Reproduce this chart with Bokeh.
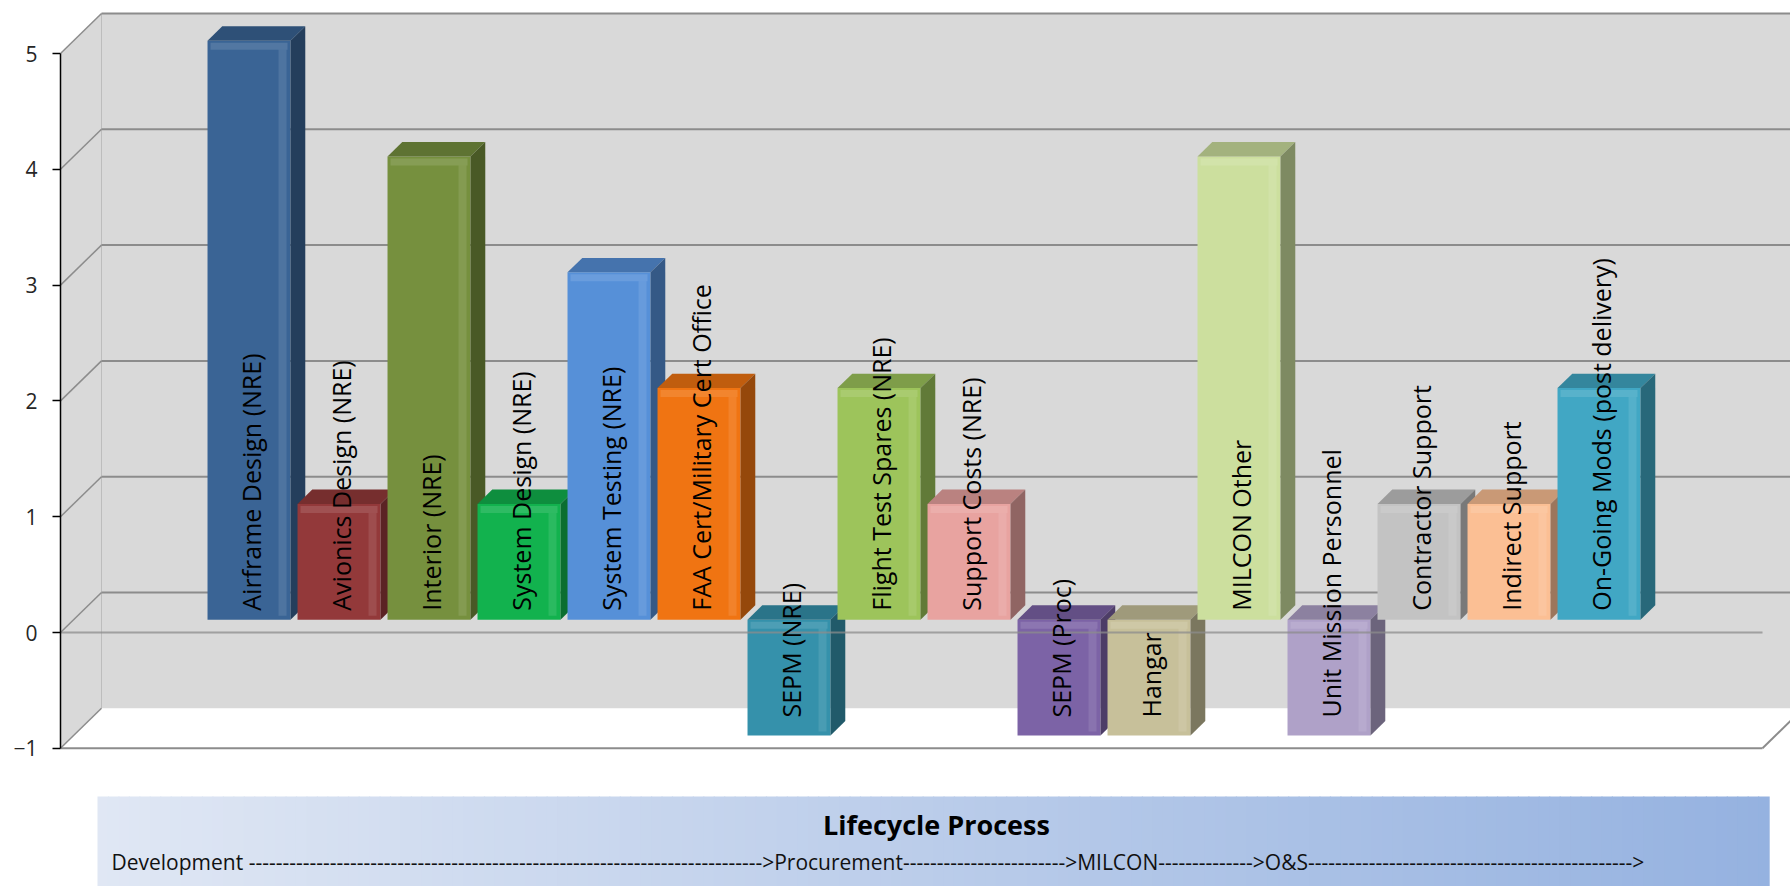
import numpy as np
from bokeh.plotting import figure
from bokeh.models import Range1d, LinearAxis, FixedTicker
from bokeh.core.properties import value
from bokeh.embed import file_html
from bokeh.resources import INLINE

# ---------------- data ----------------
categories = [
    "Airframe Design (NRE)", "Avionics Design (NRE)", "Interior (NRE)",
    "System Design (NRE)", "System Testing (NRE)", "FAA Cert/Military Cert Office",
    "SEPM (NRE)", "Flight Test Spares (NRE)", "Support Costs (NRE)",
    "SEPM (Proc)", "Hangar", "MILCON Other", "Unit Mission Personnel",
    "Contractor Support", "Indirect Support", "On-Going Mods (post delivery)",
]
values = [5, 1, 4, 1, 3, 2, -1, 2, 1, -1, -1, 4, -1, 1, 1, 2]
colors = [
    "#3A6495", "#93393A", "#76903E", "#12B24E", "#5690D8", "#F07412",
    "#3591AB", "#9DC45B", "#E8A3A0", "#7C63A6", "#C7C09A", "#CCDF9E",
    "#AFA1C8", "#C3C3C3", "#FBBF94", "#41A7C4",
]
y_ticks = [-1, 0, 1, 2, 3, 4, 5]
axis_title = "Lifecycle Process"
phases = ["Development", ">Procurement", ">MILCON", ">O&S", ">"]
phase_dashes = [76, 24, 14, 48]

# ---------------- geometry (layout) ----------------
W, H = 1790, 886
LEFT = 60            # y axis position (front plane)
UNIT = 115.8         # px per value unit
ZERO_PY = 632        # front-plane zero
SLOT = 90.0          # px per category
SLOT0 = 235.4        # front-plane center of first slot
DPX, DPY = 41.0, 40.0  # depth offset of back wall in px
DX, DY = DPX / SLOT, DPY / UNIT
F0, F1 = 0.32, 0.68  # bar front / back depth fractions
HW = 41.5 / SLOT     # half front width
VMIN, VMAX = min(y_ticks), max(y_ticks)


def X(px):
    return (px - SLOT0) / SLOT


def Y(py):
    return (ZERO_PY - py) / UNIT


def rgb(c):
    c = c.lstrip("#")
    return np.array([int(c[k:k + 2], 16) for k in (0, 2, 4)], dtype=float)


def hexc(a):
    a = np.clip(np.round(a), 0, 255).astype(int)
    return "#%02x%02x%02x" % tuple(a)


def shade(c, f):
    return hexc(rgb(c) * f)


def tint(c, f):
    a = rgb(c)
    return hexc(a + (255 - a) * f)


p = figure(width=W, height=H, output_backend="svg", toolbar_location=None,
           x_range=Range1d(X(LEFT), X(W)), y_range=Range1d(Y(H), Y(0)),
           x_axis_location=None, y_axis_location=None,
           min_border_left=LEFT, min_border_right=0, min_border_top=0,
           min_border_bottom=0)
p.outline_line_color = None
p.grid.visible = False
p.background_fill_color = "white"
p.border_fill_color = "white"

x_front = X(LEFT)
x_back = x_front + DX
x_plane_right = X(1762)
x_far = X(W) + 1

WALL = "#D9D9D9"
GRID = "#8C8C8C"

# side wall
p.patch([x_front, x_back, x_back, x_front],
        [VMAX, VMAX + DY, VMIN + DY, VMIN], fill_color=WALL, line_color=None)
# back wall
p.quad(left=x_back, right=x_far, bottom=VMIN + DY, top=VMAX + DY,
       fill_color=WALL, line_color=None)
p.segment(x0=x_back, y0=VMIN + DY, x1=x_back, y1=VMAX + DY,
          line_color="#BDBDBD", line_width=1)
# back wall gridlines
gl = [t for t in y_ticks if t > VMIN]
p.segment(x0=[x_back] * len(gl), y0=[t + DY for t in gl],
          x1=[x_far] * len(gl), y1=[t + DY for t in gl],
          line_color=GRID, line_width=2)
# side wall diagonals
p.segment(x0=[x_front] * len(y_ticks), y0=y_ticks,
          x1=[x_back] * len(y_ticks), y1=[t + DY for t in y_ticks],
          line_color=GRID, line_width=1.5)
# floor front edge + right diagonal
p.segment(x0=[x_front, x_plane_right], y0=[VMIN, VMIN],
          x1=[x_plane_right, x_plane_right + DX], y1=[VMIN, VMIN + DY],
          line_color=GRID, line_width=2)

# ---------------- bars ----------------
xs, ys, fc = [], [], []
for i, (v, c) in enumerate(zip(values, colors)):
    lo, hi = min(v, 0), max(v, 0)
    l0, r0 = i - HW + F0 * DX, i + HW + F0 * DX
    l1, r1 = i - HW + F1 * DX, i + HW + F1 * DX
    b0, t0 = lo + F0 * DY, hi + F0 * DY
    b1, t1 = lo + F1 * DY, hi + F1 * DY
    # front face
    xs.append([l0, r0, r0, l0]); ys.append([b0, b0, t0, t0]); fc.append(c)
    # right highlight band on front
    hx0, hx1 = r0 - 12 / SLOT, r0 - 4 / SLOT
    xs.append([hx0, hx1, hx1, hx0]); ys.append([b0 + 4 / UNIT, b0 + 4 / UNIT, t0 - 4 / UNIT, t0 - 4 / UNIT])
    fc.append(tint(c, 0.10))
    # top highlight band on front
    xs.append([l0 + 3 / SLOT, r0 - 3 / SLOT, r0 - 3 / SLOT, l0 + 3 / SLOT])
    ys.append([t0 - 9 / UNIT, t0 - 9 / UNIT, t0 - 2 / UNIT, t0 - 2 / UNIT])
    fc.append(tint(c, 0.12))
    # top face
    xs.append([l0, r0, r1, l1]); ys.append([t0, t0, t1, t1]); fc.append(shade(c, 0.80))
    # side face
    xs.append([r0, r1, r1, r0]); ys.append([b0, b1, t1, t0]); fc.append(shade(c, 0.62))

p.patches(xs, ys, fill_color=fc, line_color=None)

# front zero line (over bars)
p.segment(x0=x_front, y0=0, x1=x_plane_right, y1=0,
          line_color=GRID, line_width=2, line_alpha=0.75)

# ---------------- bar labels ----------------
PAD_POS, PAD_NEG = 9, 18
lab_x = [i + F0 * DX + 2 / SLOT for i in range(len(values))]
lab_y = [min(v, 0) + F0 * DY + (PAD_POS if v >= 0 else PAD_NEG) / UNIT for v in values]
p.text(x=lab_x, y=lab_y, text=categories, angle=np.pi / 2,
       text_align="left", text_baseline="middle",
       text_font=value("Open Sans"), text_font_size="25px", text_color="#000000")

# ---------------- y axis ----------------
yax = LinearAxis(ticker=FixedTicker(ticks=y_ticks), bounds=(VMIN, VMAX))
yax.axis_line_color = "black"
yax.axis_line_width = 1.5
yax.major_tick_out = 8
yax.major_tick_in = 0
yax.minor_tick_out = 0
yax.minor_tick_in = 0
yax.major_tick_line_color = "black"
yax.major_tick_line_width = 1.5
yax.major_label_standoff = 15
yax.major_label_text_font = "Open Sans"
yax.major_label_text_font_size = "21px"
yax.major_label_text_color = "#262626"
p.add_layout(yax, "left")

# ---------------- lifecycle banner ----------------
bx0, bx1, by0, by1 = 97, 1768, 796, 886
n = 160
edges = np.linspace(bx0, bx1, n + 1)
c_left, c_right = rgb("#E0E7F4"), rgb("#95B2E0")
strip_cols = [hexc(c_left + (c_right - c_left) * (k + 0.5) / n) for k in range(n)]
p.quad(left=[X(e) for e in edges[:-1]], right=[X(e) + 1.2 / SLOT for e in edges[1:]],
       bottom=Y(by1), top=Y(by0), fill_color=strip_cols, line_color=None)

p.text(x=[X(936)], y=[Y(824)], text=[axis_title],
       text_align="center", text_baseline="middle",
       text_font=value("Open Sans"), text_font_style="bold",
       text_font_size="27px", text_color="#000000")

sub = ""
for k, ph in enumerate(phases):
    sub += ph
    if k < len(phase_dashes):
        sub += (" " if k == 0 else "") + "-" * phase_dashes[k]
p.text(x=[X(111)], y=[Y(861)], text=[sub],
       text_align="left", text_baseline="middle",
       text_font=value("Open Sans"), text_font_size="21px", text_color="#111111")

open("out.html", "w").write(file_html(p, INLINE))
